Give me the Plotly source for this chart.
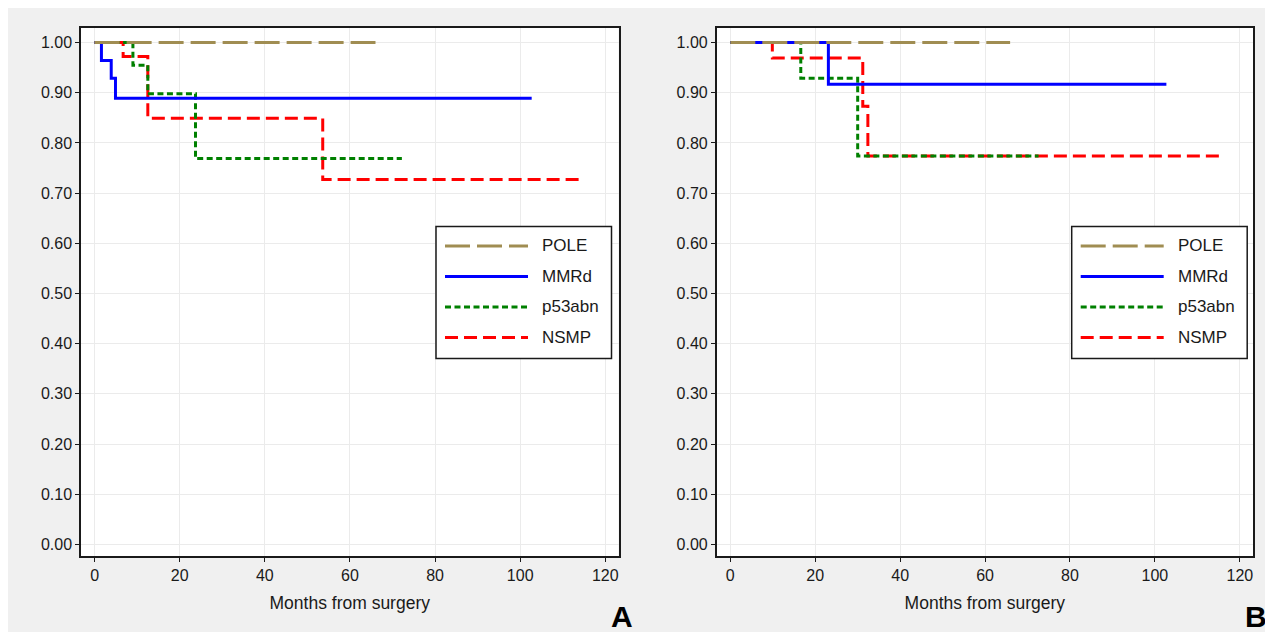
import plotly.graph_objects as go

# ---------------- data (Kaplan-Meier step curves) ----------------
groups = ["POLE", "MMRd", "p53abn", "NSMP"]

# Panel A
a_pole_t = [0, 66]
a_pole_s = [1.0, 1.0]
a_mmrd_t = [0, 1.6, 3.9, 4.9, 102.7]
a_mmrd_s = [1.0, 0.964, 0.929, 0.889, 0.889]
a_p53_t = [0, 9.0, 12.5, 23.7, 72.2]
a_p53_s = [1.0, 0.955, 0.898, 0.769, 0.769]
a_nsmp_t = [0, 6.7, 12.5, 53.6, 114.2]
a_nsmp_s = [1.0, 0.972, 0.849, 0.727, 0.727]

# Panel B
b_pole_t = [0, 65.9]
b_pole_s = [1.0, 1.0]
b_mmrd_t = [0, 23.1, 102.7]
b_mmrd_s = [1.0, 0.917, 0.917]
b_p53_t = [0, 16.6, 30.0, 72.6]
b_p53_s = [1.0, 0.929, 0.774, 0.774]
b_nsmp_t = [0, 9.9, 31.2, 32.4, 115.2]
b_nsmp_s = [1.0, 0.969, 0.873, 0.774, 0.774]

x_ticks = [0, 20, 40, 60, 80, 100, 120]
y_ticks = [0.0, 0.1, 0.2, 0.3, 0.4, 0.5, 0.6, 0.7, 0.8, 0.9, 1.0]
x_title = "Months from surgery"
panel_labels = ["A", "B"]

# ---------------- styles ----------------
styles = {
    "POLE": dict(color="#a08d52", dash="25px,7px", width=3),
    "MMRd": dict(color="#0000ff", dash="solid", width=3),
    "p53abn": dict(color="#008000", dash="6px,3.5px", width=3),
    "NSMP": dict(color="#ff0000", dash="13px,6px", width=3),
}
FONT = "Arial, 'Liberation Sans', sans-serif"

OFF = 8  # page body margin
W, H = 1265, 624
ML, MR, MT, MB = 0, 0, 20, 76


def pxx(px):
    return (px - OFF - ML) / (W - ML - MR)


def pxy(py):
    return (H - MB - (py - OFF)) / (H - MT - MB)


fig = go.Figure()

panels = [
    ("x", "y", {"POLE": (a_pole_t, a_pole_s), "MMRd": (a_mmrd_t, a_mmrd_s),
                "p53abn": (a_p53_t, a_p53_s), "NSMP": (a_nsmp_t, a_nsmp_s)}),
    ("x2", "y2", {"POLE": (b_pole_t, b_pole_s), "MMRd": (b_mmrd_t, b_mmrd_s),
                  "p53abn": (b_p53_t, b_p53_s), "NSMP": (b_nsmp_t, b_nsmp_s)}),
]
draw_order = ["NSMP", "p53abn", "MMRd", "POLE"]
for xa, ya, data in panels:
    for g in draw_order:
        t, s = data[g]
        fig.add_trace(go.Scatter(
            x=t, y=s, mode="lines", name=g, line_shape="hv",
            line=styles[g], xaxis=xa, yaxis=ya, showlegend=False,
            hoverinfo="skip"))

axis_common = dict(
    showline=True, linecolor="#1a1a1a", linewidth=1.5, mirror=True,
    showgrid=True, gridcolor="#ebebeb", gridwidth=1, zeroline=False,
    ticks="outside", ticklen=4, tickcolor="#1a1a1a",
    tickfont=dict(family=FONT, size=16, color="#1a1a1a"),
)
xrange = [-3.2, 123.1]
yrange = [-0.023, 1.029]
title_font = dict(family=FONT, size=17.5, color="#1a1a1a")
fig.update_layout(
    xaxis=dict(domain=[pxx(81), pxx(618.5)], range=xrange, tickvals=x_ticks,
               title=dict(text=x_title, font=title_font, standoff=14),
               anchor="y", **axis_common),
    yaxis=dict(domain=[0, 1], range=yrange, tickvals=y_ticks, tickformat=".2f",
               anchor="x", **axis_common),
    xaxis2=dict(domain=[pxx(716.7), pxx(1253)], range=xrange, tickvals=x_ticks,
                title=dict(text=x_title, font=title_font, standoff=14),
                anchor="y2", **axis_common),
    yaxis2=dict(domain=[0, 1], range=yrange, tickvals=y_ticks, tickformat=".2f",
                anchor="x2", **axis_common),
)

shapes = []
annotations = []

# manual legends
legend_offsets = [0, 635.7]
for k, off in enumerate(legend_offsets):
    bx0, bx1, by0, by1 = 436 + off, 611.5 + off, 226.5, 358.5
    shapes.append(dict(type="rect", xref="paper", yref="paper",
                       x0=pxx(bx0), x1=pxx(bx1), y0=pxy(by1), y1=pxy(by0),
                       fillcolor="white", line=dict(color="#1a1a1a", width=1.5), layer="above"))
    for i, g in enumerate(groups):
        yy = 246 + i * 30.5
        st = styles[g]
        shapes.append(dict(type="line", xref="paper", yref="paper",
                           x0=pxx(445 + off), x1=pxx(528 + off), y0=pxy(yy), y1=pxy(yy),
                           line=dict(color=st["color"], dash=st["dash"], width=st["width"]),
                           layer="above"))
        annotations.append(dict(xref="paper", yref="paper", x=pxx(540 + off), y=pxy(yy),
                                xanchor="left", yanchor="middle", showarrow=False, text=g,
                                font=dict(family=FONT, size=17, color="#1a1a1a")))

# panel letters
for lab, cx in zip(panel_labels, [622, 1256]):
    annotations.append(dict(xref="paper", yref="paper", x=pxx(cx), y=pxy(616),
                            xanchor="center", yanchor="middle", showarrow=False,
                            text="<b>%s</b>" % lab,
                            font=dict(family=FONT, size=30, color="black")))

fig.update_layout(
    width=W, height=H,
    margin=dict(l=ML, r=MR, t=MT, b=MB),
    paper_bgcolor="#f0f0f0", plot_bgcolor="white",
    shapes=shapes, annotations=annotations, showlegend=False,
)

fig.write_html("out.html")
